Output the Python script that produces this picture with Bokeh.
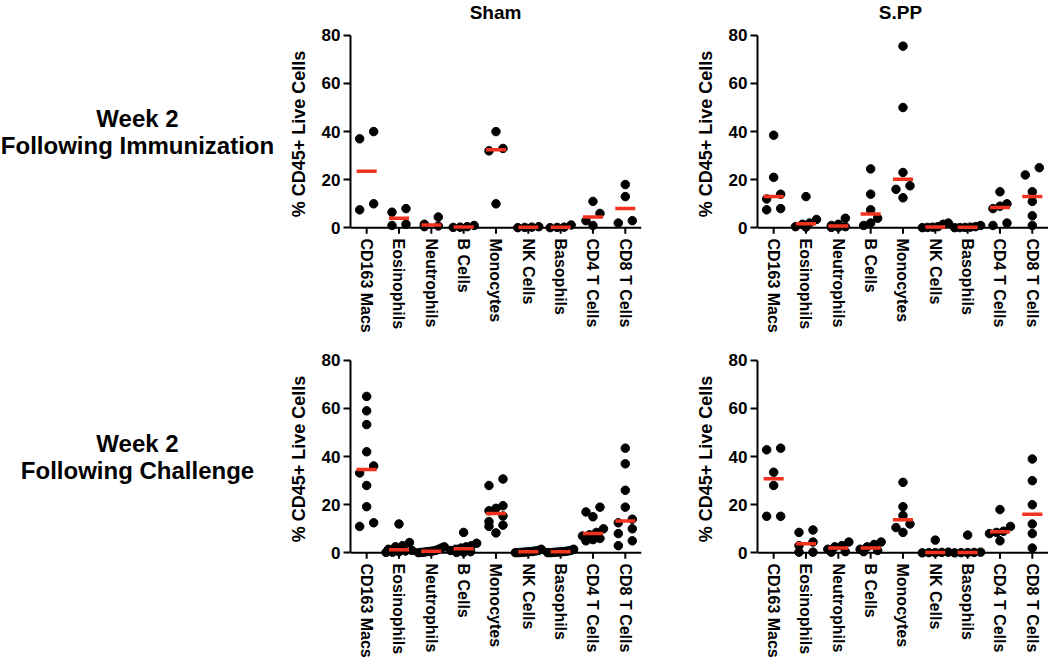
import numpy as np
from bokeh.plotting import figure
from bokeh.models import Range1d, FixedTicker
from bokeh.layouts import row, column
from bokeh.embed import file_html
from bokeh.resources import INLINE
from bokeh.core.properties import value

# ---------------- data ----------------
categories = ["CD163 Macs", "Eosinophils", "Neutrophils", "B Cells", "Monocytes",
              "NK Cells", "Basophils", "CD4 T Cells", "CD8 T Cells"]
y_ticks = [0, 20, 40, 60, 80]
column_titles = ["Sham", "S.PP"]
row_titles = [["Week 2", "Following Immunization"], ["Week 2", "Following Challenge"]]
y_title = "% CD45+ Live Cells"

# Sham, week 2 following immunization
sham_immunization = [
    [40, 37, 10, 7.5],
    [8, 6.5, 1.5, 1],
    [4.5, 1.5, 0.8, 0.5],
    [1.0, 0.5, 0.3, 0.2],
    [40, 33, 32, 10],
    [0.5, 0.3, 0.2, 0.1],
    [1.2, 0.3, 0.2, 0.1],
    [11, 6, 3, 1],
    [18, 13, 3, 2],
]
# S.PP, week 2 following immunization
spp_immunization = [
    [38.5, 21, 14, 12, 8, 7.5],
    [13, 3.5, 2, 1.5, 0.5, 0.3],
    [4, 1.5, 1, 0.5, 0.3, 0.2],
    [24.5, 14, 7.5, 4, 2, 1],
    [75.5, 50, 23, 17.5, 16, 12.5],
    [2, 1.5, 0.5, 0.3, 0.2, 0.1],
    [1, 0.5, 0.3, 0.2, 0.1, 0.1],
    [15, 10, 9, 8, 2, 1],
    [25, 22, 15, 11, 5, 1],
]
# Sham, week 2 following challenge
sham_challenge = [
    [65, 59, 53.3, 42, 36.1, 33.2, 28, 19.2, 12.5, 11],
    [12, 4.3, 3, 2.5, 1.5, 1, 0.8, 0.5, 0.3, 0.2],
    [2.5, 2, 1.5, 1, 0.8, 0.6, 0.5, 0.3, 0.2, 0.1],
    [8.5, 4, 3, 2.5, 2, 1.5, 1, 0.5, 0.3, 0.2],
    [30.7, 28, 19.6, 18.5, 17.5, 15.3, 13, 11.5, 11, 8.3],
    [1.5, 1, 0.8, 0.6, 0.5, 0.4, 0.3, 0.2, 0.1, 0.1],
    [1.5, 1, 0.8, 0.6, 0.5, 0.4, 0.3, 0.2, 0.1, 0.1],
    [19, 17, 15, 10, 8.5, 7.5, 7, 6, 5.5, 5],
    [43.5, 37, 26, 19, 14, 12.5, 10, 8, 5, 3],
]
# S.PP, week 2 following challenge
spp_challenge = [
    [43.5, 42.8, 33.5, 28, 15.2, 15.2],
    [9.5, 8.5, 4.5, 3, 0.3, 0.3],
    [4.5, 3, 2.5, 1.5, 0.5, 0.3],
    [4.5, 3.5, 2.5, 1.5, 1, 0.5],
    [29.3, 19.2, 15.5, 12, 10.5, 8.5],
    [5.3, 0.3, 0.2, 0.1, 0.1, 0],
    [7.4, 0.3, 0.2, 0.1, 0.1, 0],
    [18, 11, 9, 8.5, 8, 5],
    [39, 30, 20, 12, 8, 2],
]

# ---------------- styling / geometry ----------------
FONT = "Liberation Sans"
RED = "#f2311e"
PX_PER_CAT = 32.33
Y_START, Y_END = -4, 82
FRAME_H = 207
PX_PER_UNIT = FRAME_H / (Y_END - Y_START)
TICK_LEN = 6 / PX_PER_UNIT


def swarm_offsets(vals):
    """Prism-like horizontal spreading of points that would overlap."""
    n = len(vals)
    order = sorted(range(n), key=lambda i: -vals[i])
    groups = []
    for i in order:
        if groups and (vals[groups[-1][0]] - vals[i]) * PX_PER_UNIT < 7.5:
            groups[-1].append(i)
        else:
            groups.append([i])
    offs = [0.0] * n
    for g in groups:
        m = len(g)
        if m == 1:
            continue
        width = min(max(14.0, 7.0 * (m - 1)), 26.0)
        g_sorted = sorted(g, key=lambda i: vals[i])
        pos = np.linspace(-width / 2, width / 2, m)
        for k, i in enumerate(g_sorted):
            offs[i] = pos[k] / PX_PER_CAT
    return offs


def make_panel(data, width, height, top, bottom, left, right):
    x_end = -0.5 + (width - left - right) / PX_PER_CAT
    p = figure(width=width, height=height,
               x_range=Range1d(-0.5, x_end), y_range=Range1d(Y_START, Y_END),
               output_backend="svg", toolbar_location=None,
               min_border_left=left, min_border_right=right,
               min_border_top=top, min_border_bottom=bottom)
    p.outline_line_color = None
    p.grid.visible = False
    p.background_fill_color = "white"

    # x axis line at y = 0 and its tick marks
    cats_idx = list(range(len(categories)))
    p.segment(x0=[-0.5], y0=[0], x1=[x_end], y1=[0], line_color="black", line_width=2)
    p.segment(x0=cats_idx, y0=[0] * len(cats_idx), x1=cats_idx,
              y1=[-TICK_LEN] * len(cats_idx), line_color="black", line_width=2)

    xs, ys, mx0, mx1, my = [], [], [], [], []
    for ci, vals in enumerate(data):
        offs = swarm_offsets(vals)
        for v, o in zip(vals, offs):
            xs.append(ci + o)
            ys.append(v)
        med = float(np.median(vals))
        mx0.append(ci - 0.31)
        mx1.append(ci + 0.31)
        my.append(med)

    p.scatter(xs, ys, size=8.5, color="black")
    p.segment(x0=mx0, y0=my, x1=mx1, y1=my, line_color=RED, line_width=3.5)

    ya = p.yaxis[0]
    ya.ticker = FixedTicker(ticks=y_ticks)
    ya.bounds = (0, 80)
    ya.axis_line_width = 2
    ya.axis_line_color = "black"
    ya.major_tick_line_width = 2
    ya.major_tick_line_color = "black"
    ya.major_tick_out = 7
    ya.major_tick_in = 0
    ya.minor_tick_line_color = None
    ya.major_label_text_font = FONT
    ya.major_label_text_font_style = "bold"
    ya.major_label_text_font_size = "17px"
    ya.major_label_text_color = "black"
    ya.major_label_standoff = 3
    ya.axis_label = y_title
    ya.axis_label_text_font = FONT
    ya.axis_label_text_font_style = "bold"
    ya.axis_label_text_font_size = "18px"
    ya.axis_label_text_color = "black"
    ya.axis_label_standoff = 10

    xa = p.xaxis[0]
    xa.ticker = FixedTicker(ticks=cats_idx)
    xa.major_label_overrides = {i: c for i, c in enumerate(categories)}
    xa.major_label_orientation = "vertical"
    xa.axis_line_color = None
    xa.major_tick_line_color = None
    xa.major_tick_out = 0
    xa.major_tick_in = 0
    xa.minor_tick_line_color = None
    xa.major_label_text_font = FONT
    xa.major_label_text_font_style = "bold"
    xa.major_label_text_font_size = "16px"
    xa.major_label_text_color = "black"
    xa.major_label_standoff = 1
    return p


TITLE_H = 24
ROW1 = dict(top=6, bottom=108)
ROW2 = dict(top=10, bottom=105)
h1 = ROW1["top"] + FRAME_H + ROW1["bottom"]
h2 = ROW2["top"] + FRAME_H + ROW2["bottom"]
W_LEFT, W_RIGHT = 407, 361

p1 = make_panel(sham_immunization, W_LEFT, h1, left=70, right=46, **ROW1)
p2 = make_panel(spp_immunization, W_RIGHT, h1, left=70, right=0, **ROW1)
p3 = make_panel(sham_challenge, W_LEFT, h2, left=70, right=46, **ROW2)
p4 = make_panel(spp_challenge, W_RIGHT, h2, left=70, right=0, **ROW2)

# column titles strip
TW = W_LEFT + W_RIGHT
tfig = figure(width=TW, height=TITLE_H, x_range=Range1d(0, TW), y_range=Range1d(TITLE_H, 0),
              output_backend="svg", toolbar_location=None, min_border=0)
tfig.outline_line_color = None
tfig.grid.visible = False
tfig.axis.visible = False
tfig.text(x=[215, 620], y=[12, 12], text=column_titles, text_font=value(FONT),
          text_font_style="bold", text_font_size="19px", text_align="center",
          text_baseline="middle", text_color="black")

# row titles
LW, LH = 280, TITLE_H + h1 + h2
lab = figure(width=LW, height=LH, x_range=Range1d(0, LW), y_range=Range1d(LH, 0),
             output_backend="svg", toolbar_location=None, min_border=0)
lab.outline_line_color = None
lab.grid.visible = False
lab.axis.visible = False
row_y = [[118, 145], [443, 470]]
tx, ty, tt = [], [], []
for lines, ys_ in zip(row_titles, row_y):
    for t, yy in zip(lines, ys_):
        tx.append(137)
        ty.append(yy)
        tt.append(t)
lab.text(x=tx, y=ty, text=tt, text_font=value(FONT), text_font_style="bold",
         text_font_size="24px", text_align="center", text_baseline="middle",
         text_color="black")

layout = row(lab, column(tfig, row(p1, p2), row(p3, p4)))

with open("out.html", "w") as f:
    f.write(file_html(layout, INLINE))
